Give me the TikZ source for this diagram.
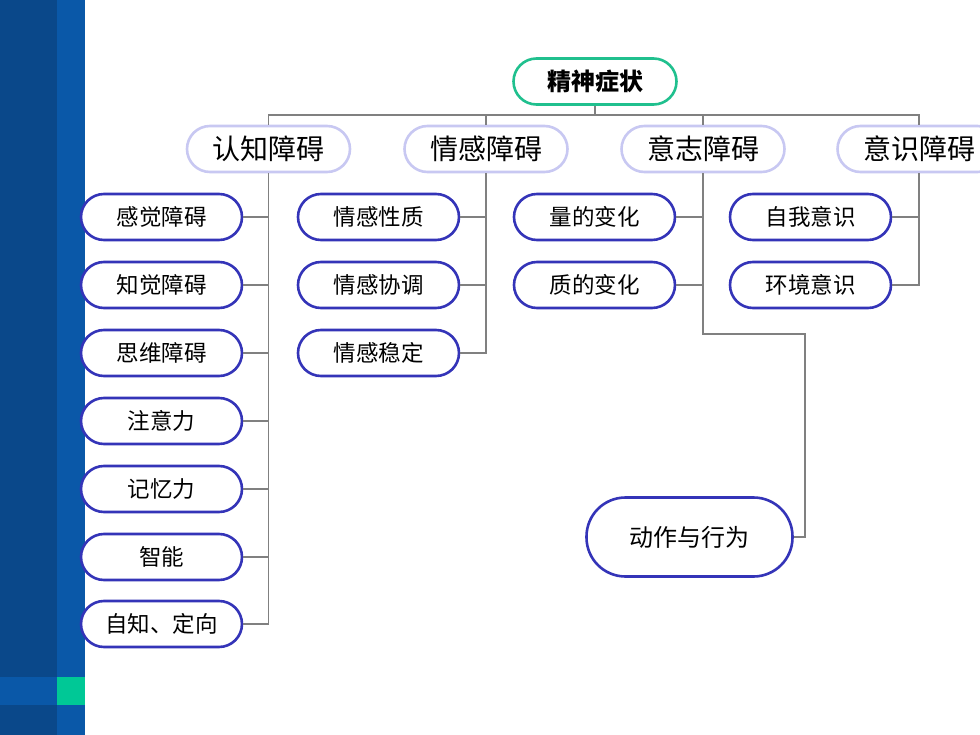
\documentclass[tikz,border=0pt]{standalone}
\usepackage{fontspec}
\setmainfont{Noto Sans CJK SC}
\usetikzlibrary{positioning}
\definecolor{stripdark}{RGB}{10,72,138}
\definecolor{striplight}{RGB}{10,88,168}
\definecolor{stripteal}{RGB}{0,200,150}
\definecolor{rootborder}{RGB}{32,192,142}
\definecolor{lvlone}{RGB}{200,200,242}
\definecolor{lvltwo}{RGB}{52,52,184}
\definecolor{wire}{RGB}{128,128,128}
\tikzset{
  rootbox/.style={draw=rootborder, line width=2.6pt, fill=white, rounded corners=23pt,
    minimum width=163pt, minimum height=46pt, inner sep=0pt, font=\fontsize{24}{24}\selectfont\bfseries},
  onebox/.style={draw=lvlone, line width=2.6pt, fill=white, rounded corners=23pt,
    minimum width=163pt, minimum height=46pt, inner sep=0pt, font=\fontsize{28}{28}\selectfont},
  twobox/.style={draw=lvltwo, line width=2.6pt, fill=white, rounded corners=23pt,
    minimum width=161pt, minimum height=46pt, inner sep=0pt, font=\fontsize{22.5}{22.5}\selectfont},
  bigbox/.style={draw=lvltwo, line width=2.6pt, fill=white, rounded corners=39pt,
    minimum width=206pt, minimum height=79pt, inner sep=0pt, font=\fontsize{24}{24}\selectfont},
  wireline/.style={draw=wire, line width=1.8pt}
}
\begin{document}
\begin{tikzpicture}[x=1pt,y=-1pt]
\useasboundingbox (0,0) rectangle (980,735);
\clip (0,0) rectangle (980,735);
% background strips
\fill[white] (0,0) rectangle (980,735);
\fill[stripdark] (0,0) rectangle (57,735);
\fill[striplight] (57,0) rectangle (85,735);
\fill[striplight] (0,677) rectangle (57,705);
\fill[stripteal] (57,677) rectangle (85,705);

% nodes
\node[rootbox] (root) at (595,81.5) {精神症状};
\node[onebox] (rz) at (268.5,149) {认知障碍};
\node[onebox] (qg) at (486,149) {情感障碍};
\node[onebox] (yz) at (703,149) {意志障碍};
\node[onebox] (ys) at (919,149) {意识障碍};

\node[twobox] (a1) at (161.5,217) {感觉障碍};
\node[twobox] (a2) at (161.5,285) {知觉障碍};
\node[twobox] (a3) at (161.5,353) {思维障碍};
\node[twobox] (a4) at (161.5,421) {注意力};
\node[twobox] (a5) at (161.5,489) {记忆力};
\node[twobox] (a6) at (161.5,557) {智能};
\node[twobox] (a7) at (161.5,624) {自知、定向};

\node[twobox] (b1) at (378.5,217) {情感性质};
\node[twobox] (b2) at (378.5,285) {情感协调};
\node[twobox] (b3) at (378.5,353) {情感稳定};

\node[twobox] (c1) at (594.5,217) {量的变化};
\node[twobox] (c2) at (594.5,285) {质的变化};
\node[bigbox] (c3) at (689.5,537) {动作与行为};

\node[twobox] (d1) at (810.5,217) {自我意识};
\node[twobox] (d2) at (810.5,285) {环境意识};

% bus
\coordinate (bus) at (595,115);
\begin{scope}[on background layer/.style={}]
\draw[wireline] (root.south) -- (bus);
\draw[wireline] (rz.north) |- (bus) -| (ys.north);
\draw[wireline] (qg.north) -- (qg.north |- bus);
\draw[wireline] (yz.north) -- (yz.north |- bus);
\end{scope}

% column 1
\coordinate (rzend) at (rz.south |- a7);
\draw[wireline] (rz.south) -- (rzend) -- (a7.east);
\foreach \n in {a1,a2,a3,a4,a5,a6}{\draw[wireline] (\n.east) -- (rz.south |- \n);}
% column 2
\coordinate (qgend) at (qg.south |- b3);
\draw[wireline] (qg.south) -- (qgend) -- (b3.east);
\foreach \n in {b1,b2}{\draw[wireline] (\n.east) -- (qg.south |- \n);}
% column 3
\coordinate (yzturn) at (yz.south |- 0,334);
\coordinate (yzright) at (805,334);
\coordinate (yzdown) at (yzright |- c3);
\draw[wireline] (yz.south) -- (yzturn) -- (yzright) -- (yzdown) -- (c3.east);
\foreach \n in {c1,c2}{\draw[wireline] (\n.east) -- (yz.south |- \n);}
% column 4
\coordinate (ysend) at (ys.south |- d2);
\draw[wireline] (ys.south) -- (ysend) -- (d2.east);
\draw[wireline] (d1.east) -- (ys.south |- d1);
\end{tikzpicture}
\end{document}
